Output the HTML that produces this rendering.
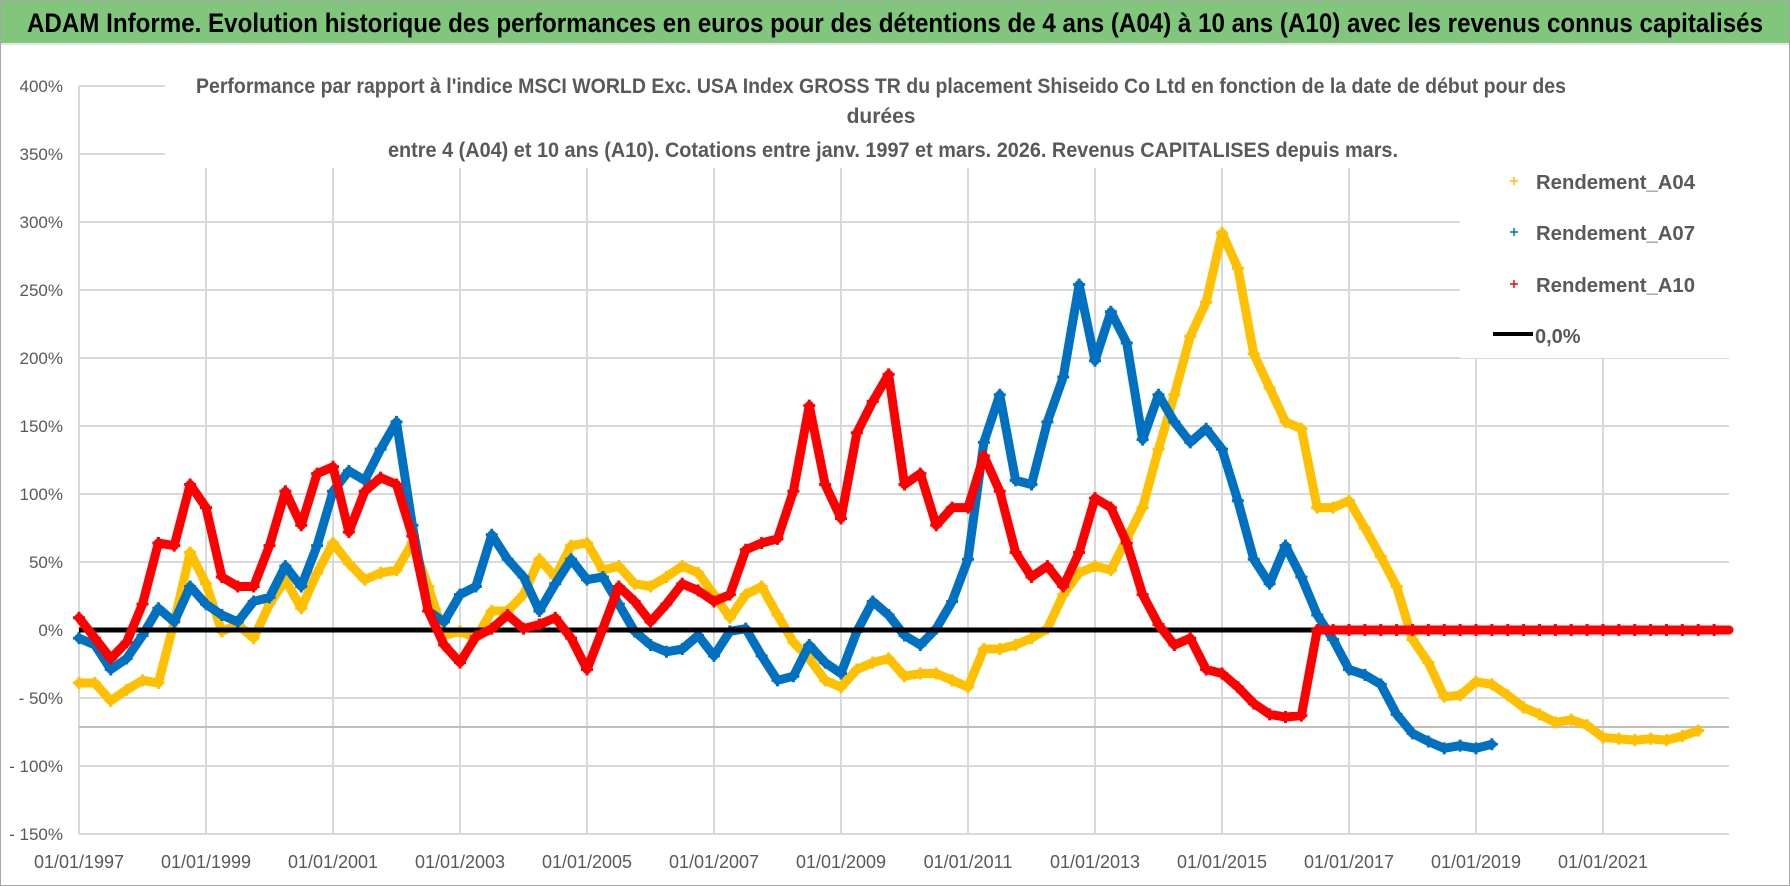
<!DOCTYPE html>
<html><head><meta charset="utf-8">
<style>
html,body{margin:0;padding:0;background:#fff;}
svg{display:block;font-family:"Liberation Sans",sans-serif;}
</style></head>
<body>
<svg id="chart" width="1790" height="886" viewBox="0 0 1790 886" xmlns="http://www.w3.org/2000/svg">
  <rect x="0.5" y="0.5" width="1789" height="885" fill="#fff" stroke="#a6a6a6"/>
  <rect x="1" y="1" width="1788" height="42" fill="#80c77c"/>
  <line x1="1" y1="44" x2="1789" y2="44" stroke="#e6e6e6" stroke-width="2"/>
  <text x="27" y="32" font-size="27" font-weight="bold" fill="#000" textLength="1736" lengthAdjust="spacingAndGlyphs">ADAM Informe. Evolution historique des performances en euros pour des détentions de 4 ans (A04) à 10 ans (A10) avec les revenus connus capitalisés</text>
  <g id="grid"></g>
  <g id="yticks"></g>
  <g id="xticks"></g>
  <line x1="79" y1="727" x2="1729" y2="727" stroke="#bfbfbf" stroke-width="2"/>
  <g id="series"></g>
  <rect x="165" y="58" width="1564" height="110" fill="#fff"/>
  <text x="196" y="93" font-size="21" font-weight="bold" fill="#595959" textLength="1370" lengthAdjust="spacingAndGlyphs">Performance par rapport à l'indice MSCI WORLD Exc. USA Index GROSS TR  du placement Shiseido Co Ltd en fonction de la date de début pour des</text>
  <text x="881" y="123" font-size="21" font-weight="bold" fill="#595959" text-anchor="middle">durées</text>
  <text x="388" y="157" font-size="21" font-weight="bold" fill="#595959" textLength="1010" lengthAdjust="spacingAndGlyphs">entre 4 (A04) et 10 ans (A10).  Cotations entre janv. 1997 et mars. 2026.  Revenus CAPITALISES  depuis mars.</text>
  <g>
    <rect x="1460" y="150" width="270" height="208" fill="#fff"/>
    <g>
      <path d="M1510 181h8M1514 177v8" stroke="#FFC000" stroke-width="1.5"/>
      <text x="1536" y="189" font-size="20" font-weight="bold" fill="#595959" textLength="159" lengthAdjust="spacingAndGlyphs">Rendement_A04</text>
    </g>
    <g>
      <path d="M1510 232h8M1514 228v8" stroke="#0070C0" stroke-width="1.5"/>
      <text x="1536" y="240" font-size="20" font-weight="bold" fill="#595959" textLength="159" lengthAdjust="spacingAndGlyphs">Rendement_A07</text>
    </g>
    <g>
      <path d="M1510 284h8M1514 280v8" stroke="#FF0000" stroke-width="1.5"/>
      <text x="1536" y="292" font-size="20" font-weight="bold" fill="#595959" textLength="159" lengthAdjust="spacingAndGlyphs">Rendement_A10</text>
    </g>
    <g>
      <line x1="1493" y1="334" x2="1533" y2="334" stroke="#000" stroke-width="4"/>
      <text x="1535" y="343" font-size="20" font-weight="bold" fill="#595959">0,0%</text>
    </g>
  </g>
</svg>
<script>
const yTicks = [400,350,300,250,200,150,100,50,0,-50,-100,-150];
const yTickLabels = ["400%","350%","300%","250%","200%","150%","100%","50%","0%","- 50%","- 100%","- 150%"];
const xTickYears = [1997,1999,2001,2003,2005,2007,2009,2011,2013,2015,2017,2019,2021];
const xTickLabels = ["01/01/1997","01/01/1999","01/01/2001","01/01/2003","01/01/2005","01/01/2007","01/01/2009","01/01/2011","01/01/2013","01/01/2015","01/01/2017","01/01/2019","01/01/2021"];
const dates = Array.from({length:104},(_,i)=>1997+i/4);
const rendA04 = [-39,-39,-52,-44,-37,-39,6,57,34,-1,4,-6,19,37,16,42,64,49,37,42,44,64,32,-4,-1,-6,
 14,14,26,52,39,62,64,44,47,34,32,39,47,42,26,9,26,32,11,-9,-21,-37,-42,-29,-24,-21,-34,
 -32,-32,-37,-42,-14,-14,-11,-6,1,26,42,47,44,67,90,133,173,216,241,292,266,203,178,153,148,90,
 90,95,75,54,32,-7,-24,-49,-48,-38,-40,-48,-57,-62,-68,-66,-70,-79,-80,-81,-80,-81,-78,-74,null];
const rendA07 = [-6,-11,-29,-21,-4,16,6,32,19,11,6,21,24,47,32,62,102,117,110,133,153,77,14,6,26,32,
 70,52,39,14,34,52,37,39,19,-1,-11,-16,-14,-4,-19,-1,1,-19,-37,-34,-11,-24,-32,-1,21,11,-4,
 -11,1,21,52,138,173,110,107,153,186,254,198,234,211,140,173,153,138,148,133,95,52,34,62,39,11,
 -7,-29,-33,-40,-62,-76,-82,-87,-85,-87,-84,
 null,null,null,null,null,null,null,null,null,null,null,null,null,null];
const rendA10 = [9,-6,-21,-9,19,64,62,107,90,39,32,32,62,102,77,115,120,72,102,112,107,69,14,-11,-24,-5,
 1,11,1,4,9,-6,-29,1,32,21,6,19,34,29,21,26,59,64,67,102,165,107,82,145,168,188,107,
 115,77,90,90,128,102,57,39,47,32,57,97,90,64,26,4,-11,-6,-29,-32,-42,-54,-62,-64,-63,
 0,0,0,0,0,0,0,0,0,0,0,0,0,0,0,0,0,0,0,0,0,0,0,0,0,0];

const NS="http://www.w3.org/2000/svg";
const X0=79, X1=1729, PXYEAR=63.5, Y0=630, PXPCT=68/50;
function xScale(year){return X0+(year-1997)*PXYEAR;}
function yScale(v){return Y0-v*PXPCT;}
function mk(tag,attrs,parent){const e=document.createElementNS(NS,tag);for(const k in attrs)e.setAttribute(k,attrs[k]);parent.appendChild(e);return e;}

const grid=document.getElementById('grid');
yTicks.forEach(v=>{
  const l=mk('line',{x1:X0,y1:yScale(v),x2:X1,y2:yScale(v),stroke:'#d9d9d9','stroke-width':2},grid);
  
  
});
xTickYears.forEach(y=>{
  const l=mk('line',{x1:xScale(y),y1:yScale(400),x2:xScale(y),y2:yScale(-150),stroke:'#d9d9d9','stroke-width':2},grid);
  
  
});
const yt=document.getElementById('yticks');
yTicks.forEach((v,i)=>{
  const t=mk('text',{x:63,y:yScale(v)+6,'font-size':17,fill:'#595959','text-anchor':'end'},yt);
  t.textContent=yTickLabels[i];
  
  
});
const xt=document.getElementById('xticks');
xTickYears.forEach((y,i)=>{
  const t=mk('text',{x:xScale(y),y:868,'font-size':18,fill:'#595959','text-anchor':'middle'},xt);
  t.textContent=xTickLabels[i];
  
  
});

const sg=document.getElementById('series');
function drawSeries(vals,color,name,extendToEdge){
  const g=mk('g',{},sg);
  
  
  let segs=[],cur=[];
  vals.forEach((v,i)=>{if(v===null){if(cur.length)segs.push(cur);cur=[];}else cur.push([xScale(dates[i]),yScale(v)]);});
  if(cur.length)segs.push(cur);
  segs.forEach((s,si)=>{
    const pts=s.slice();
    if(extendToEdge && si===segs.length-1){const last=pts[pts.length-1];pts.push([X1,last[1]]);}
    const p=mk('polyline',{points:pts.map(q=>q.join(',')).join(' '),fill:'none',stroke:color,'stroke-width':9,'stroke-linejoin':'round','stroke-linecap':'round'},g);
    
    
  });
  vals.forEach((v,i)=>{
    if(v===null)return;
    const x=xScale(dates[i]),y=yScale(v);
    const m=mk('path',{d:`M${x-6} ${y}h12M${x} ${y-6}v12`,stroke:color,'stroke-width':3},g);
    
    
  });
}
drawSeries(rendA04,'#FFC000','series-a04',false);
drawSeries(rendA07,'#0070C0','series-a07',false);
const zl=mk('line',{x1:X0,y1:yScale(0),x2:X1,y2:yScale(0),stroke:'#000','stroke-width':5},sg);


drawSeries(rendA10,'#FF0000','series-a10',true);
</script>
</body></html>
